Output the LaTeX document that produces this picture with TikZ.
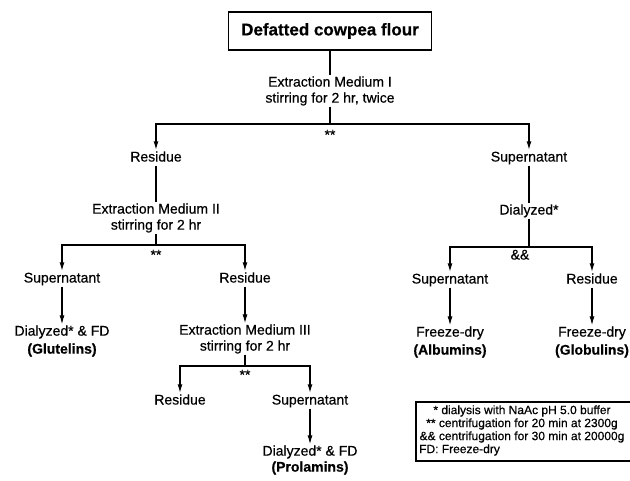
\documentclass[tikz,border=0pt]{standalone}
\usepackage{fontspec}
\setmainfont{Liberation Sans}[RawFeature={embolden=0.5}]
\usetikzlibrary{arrows.meta}
\begin{document}
\begin{tikzpicture}[x=1pt,y=-1pt,
  txt/.style={inner sep=1pt,align=center,font=\fontsize{14}{16}\selectfont},
  one/.style={inner sep=1pt,text height=10pt,text depth=3pt,font=\fontsize{14}{16}\selectfont},
  leg/.style={inner sep=0pt,font=\fontsize{12}{13}\selectfont},
  ln/.style={line width=1.1pt},
  hl/.style={line width=1.5pt},
  arr/.style={-{Latex[length=9pt,width=5pt]}}]
\useasboundingbox (0,0) rectangle (630,480);
% top
\node[draw,line width=1.2pt,minimum width=203pt,minimum height=38pt,inner sep=0pt,font=\fontsize{17}{20}\selectfont\bfseries] (top) at (330,31) {Defatted cowpea flour};
\node[txt] (em1) at (330,91) {Extraction Medium I\\stirring for 2 hr, twice};
\coordinate (j1) at (330,124);
\node[one] (s1) at (330,136) {**};
\node[one] (res1) at (156,158) {Residue};
\node[one] (sup1) at (529,158) {Supernatant};
\draw[ln] (top) -- (em1);
\draw[ln] (em1) -- (j1);
\draw[hl,arr] (j1) -| (res1);
\draw[hl,arr] (j1) -| (sup1);
% left branch
\node[txt] (em2) at (156,218) {Extraction Medium II\\stirring for 2 hr};
\coordinate (j2) at (156,245);
\node[one] (s2) at (156,256) {**};
\node[one] (sup2) at (62,279) {Supernatant};
\node[one] (res2) at (245,279) {Residue};
\draw[ln] (res1) -- (em2);
\draw[ln] (em2) -- (j2);
\draw[hl,arr] (j2) -| (sup2);
\draw[hl,arr] (j2) -| (res2);
\node[txt,font=\fontsize{14}{18}\selectfont] (dial2) at (62,341) {Dialyzed* \& FD\\\textbf{(Glutelins)}};
\node[txt] (em3) at (245,339) {Extraction Medium III\\stirring for 2 hr};
\draw[ln,arr] (sup2) -- (dial2);
\draw[ln,arr] (res2) -- (em3);
\coordinate (j3) at (245,366);
\node[one] (s3) at (245,376) {**};
\node[one] (res3) at (180,401) {Residue};
\node[one] (sup3) at (310,401) {Supernatant};
\draw[ln] (em3) -- (j3);
\draw[hl,arr] (j3) -| (res3);
\draw[hl,arr] (j3) -| (sup3);
\node[txt,font=\fontsize{14}{16}\selectfont] (dial3) at (310,460) {Dialyzed* \& FD\\\textbf{(Prolamins)}};
\draw[ln,arr] (sup3) -- (dial3);
% right branch
\node[one] (dialR) at (529,211) {Dialyzed*};
\coordinate (jR) at (529,247);
\node[one] (sR) at (520,256) {\&\&};
\node[one] (sup4) at (450,280) {Supernatant};
\node[one] (res4) at (592,280) {Residue};
\draw[ln] (sup1) -- (dialR);
\draw[ln] (dialR) -- (jR);
\draw[hl,arr] (jR) -| (sup4);
\draw[hl,arr] (jR) -| (res4);
\node[txt,font=\fontsize{14}{18}\selectfont] (fd4) at (450,342) {Freeze-dry\\\textbf{(Albumins)}};
\node[txt,font=\fontsize{14}{18}\selectfont] (fd5) at (592,342) {Freeze-dry\\\textbf{(Globulins)}};
\draw[ln,arr] (sup4) -- (fd4);
\draw[ln,arr] (res4) -- (fd5);
% legend
\draw[line width=1.1pt] (634,402) -- (416,402) -- (416,461) -- (634,461);
\node[leg] (l1) at (522,411) {* dialysis with NaAc pH 5.0 buffer};
\node[leg] (l2) at (522,424) {** centrifugation for 20 min at 2300g};
\node[leg] (l3) at (522,437) {\&\& centrifugation for 30 min at 20000g};
\node[leg,anchor=west] (l4) at (419,450) {FD: Freeze-dry};
\end{tikzpicture}
\end{document}
